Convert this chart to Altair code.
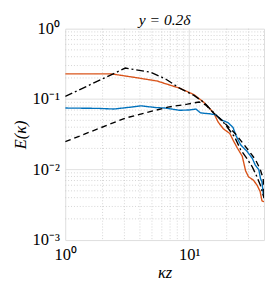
import altair as alt
import pandas as pd

# ---- data (kappa_z, E) ----
k_orange = [1.00, 2.37, 3.72, 5.49, 8.35, 10.9, 13.1, 15.7, 17.1, 18.8, 21.2, 22.5, 24.4, 26.7, 28.4, 30.0, 32.8, 35.2, 37.2, 38.5, 40.0]
E_orange = [0.228, 0.228, 0.202, 0.181, 0.143, 0.116, 0.090, 0.064, 0.047, 0.038, 0.0325, 0.0263, 0.0202, 0.0155, 0.00966, 0.0079, 0.0071, 0.0060, 0.0049, 0.0036, 0.0035]

k_blue = [1.00, 1.81, 2.46, 3.40, 4.07, 5.33, 6.38, 8.35, 10.0, 11.3, 12.3, 14.8, 16.3, 18.2, 20.5, 22.5, 23.7, 25.9, 29.3, 32.2, 34.0, 36.3, 37.5, 38.5, 39.4, 40.0]
E_blue = [0.0748, 0.0740, 0.0724, 0.0771, 0.0804, 0.0760, 0.0748, 0.0695, 0.0702, 0.0724, 0.0638, 0.0618, 0.0599, 0.0507, 0.0465, 0.0397, 0.0308, 0.0225, 0.0180, 0.0144, 0.0116, 0.0100, 0.00743, 0.00676, 0.00448, 0.00394]

k_dashed = [1.00, 3.05, 6.73, 9.64, 12.0, 13.6, 15.7, 18.1, 20.5, 23.7, 26.9, 30.5, 34.0, 37.2, 39.4, 40.0]
E_dashed = [0.0249, 0.0539, 0.0771, 0.0849, 0.0912, 0.0822, 0.0638, 0.0511, 0.0410, 0.0318, 0.0239, 0.0180, 0.0140, 0.0102, 0.00743, 0.00420]

k_dashdot = [1.00, 3.05, 4.07, 4.87, 6.38, 8.35, 10.9, 13.1, 15.7, 19.3, 23.2, 25.9, 29.4, 32.2, 35.1, 37.4, 39.4, 40.0]
E_dashdot = [0.109, 0.276, 0.254, 0.241, 0.195, 0.143, 0.113, 0.090, 0.0644, 0.0447, 0.0290, 0.0192, 0.0140, 0.0109, 0.0079, 0.0060, 0.00434, 0.00394]

series_names = ["orange", "blue", "dashed", "dashdot"]
series_colors = ["#D95319", "#0072BD", "#000000", "#000000"]
series_dash = [[1, 0], [1, 0], [6, 4], [8, 3, 2, 3]]

x_major = [10]
x_minor = [2, 3, 4, 5, 6, 7, 8, 9, 20, 30]
y_major = [0.1, 0.01]
y_minor = [0.002, 0.003, 0.004, 0.005, 0.006, 0.007, 0.008, 0.009,
           0.02, 0.03, 0.04, 0.05, 0.06, 0.07, 0.08, 0.09,
           0.2, 0.3, 0.4, 0.5, 0.6, 0.7, 0.8, 0.9]

x_ticks = [1, 10]
y_ticks = [1, 0.1, 0.01, 0.001]

rows = []
for name, ks, es in [("orange", k_orange, E_orange), ("blue", k_blue, E_blue),
                     ("dashed", k_dashed, E_dashed), ("dashdot", k_dashdot, E_dashdot)]:
    for i, (k, e) in enumerate(zip(ks, es)):
        rows.append({"series": name, "k": k, "E": e, "i": i})
df = pd.DataFrame(rows)

xscale = alt.Scale(type="log", domain=[1, 40], nice=False)
yscale = alt.Scale(type="log", domain=[0.001, 1], nice=False)

FONT = "Liberation Serif"

x_axis = alt.Axis(values=x_ticks, grid=False, ticks=False, domain=False,
                  labelExpr="datum.value == 1 ? '10⁰' : '10¹'",
                  labelFont=FONT, labelFontSize=17, labelColor="#000000",
                  labelPadding=7, title="κz", titleFont=FONT, titleFontStyle="italic",
                  titleFontWeight="normal", titleFontSize=17, titlePadding=3,
                  titleColor="#000000", labelFlush=False)
y_axis = alt.Axis(values=y_ticks, grid=False, ticks=False, domain=False,
                  labelExpr="datum.value >= 1 ? '10⁰' : datum.value >= 0.1 ? '10⁻¹' : datum.value >= 0.01 ? '10⁻²' : '10⁻³'",
                  labelFont=FONT, labelFontSize=17, labelColor="#000000",
                  labelPadding=6, title="E(κ)", titleFont=FONT, titleFontStyle="italic",
                  titleFontWeight="normal", titleFontSize=17, titlePadding=3,
                  titleColor="#000000", labelFlush=False)

gx_minor = alt.Chart(pd.DataFrame({"k": x_minor})).mark_rule(
    color="#c8c8c8", strokeWidth=0.8, strokeDash=[1, 2]).encode(
    x=alt.X("k:Q", scale=xscale, axis=x_axis))
gx_major = alt.Chart(pd.DataFrame({"k": x_major})).mark_rule(
    color="#e0e0e0", strokeWidth=1).encode(x=alt.X("k:Q", scale=xscale))
gy_minor = alt.Chart(pd.DataFrame({"E": y_minor})).mark_rule(
    color="#c8c8c8", strokeWidth=0.8, strokeDash=[1, 2]).encode(
    y=alt.Y("E:Q", scale=yscale, axis=y_axis))
gy_major = alt.Chart(pd.DataFrame({"E": y_major})).mark_rule(
    color="#e0e0e0", strokeWidth=1).encode(y=alt.Y("E:Q", scale=yscale))

lines = alt.Chart(df).mark_line(strokeWidth=1.4, clip=True).encode(
    x=alt.X("k:Q", scale=xscale),
    y=alt.Y("E:Q", scale=yscale),
    color=alt.Color("series:N", scale=alt.Scale(domain=series_names, range=series_colors), legend=None),
    strokeDash=alt.StrokeDash("series:N", scale=alt.Scale(domain=series_names, range=series_dash), legend=None),
    order="i:Q",
)

chart = alt.layer(gx_minor, gy_minor, gx_major, gy_major, lines).properties(
    width=205, height=218,
    autosize=alt.AutoSizeParams(type="none"),
    padding={"left": 59, "top": 17, "right": 1, "bottom": 42},
    title=alt.Title("y = 0.2δ", font=FONT, fontStyle="italic", fontWeight="normal",
                    fontSize=16, color="#000000", offset=0, dy=8,
                    anchor="middle"),
).configure_view(stroke="#8c8c8c", strokeWidth=1).configure(background="#ffffff")

chart.save("out.html", embed_options={"renderer": "svg", "actions": False})
